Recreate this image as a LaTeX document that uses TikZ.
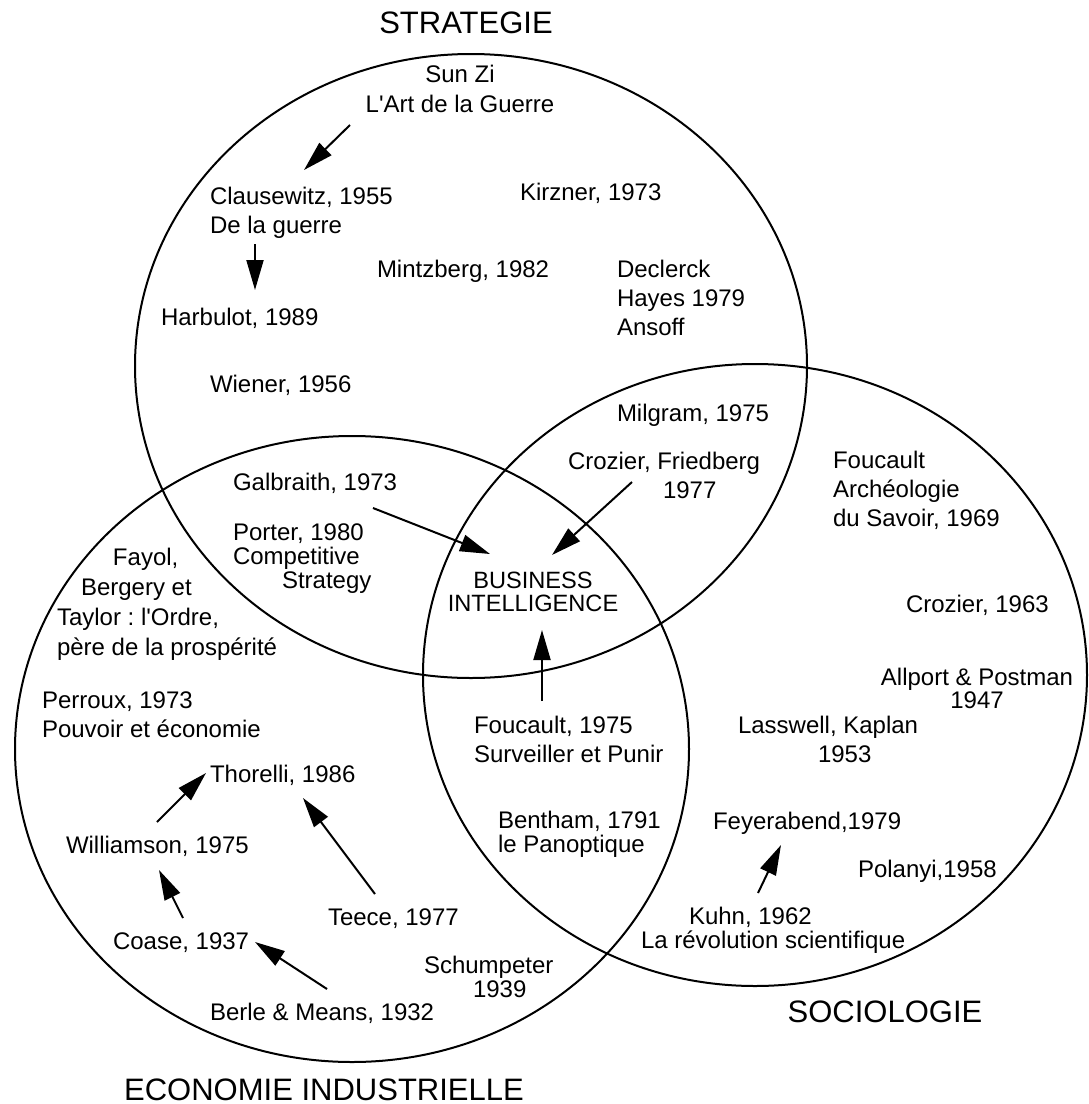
\documentclass[tikz,border=0pt]{standalone}
\usepackage{fontspec}
\setmainfont{Liberation Sans}
\usetikzlibrary{arrows.meta}
% multi-line text block whose baseline is the first line
\newcommand\txtblock[2]{\begin{tabular}[t]{@{}#1@{}}#2\end{tabular}}
\frenchspacing
\begin{document}
\begin{tikzpicture}[x=0.5pt,y=-0.5pt,
  field/.style={line width=1pt},
  link/.style={line width=1pt,-{Triangle[length=15pt,width=8.5pt]}},
  lbl/.style={inner sep=0pt,outer sep=0pt,anchor=base west,font=\fontsize{12}{14.5}\selectfont},
  lblwide/.style={lbl,font=\fontsize{12}{15}\selectfont},
  lbltight/.style={lbl,font=\fontsize{12}{12}\selectfont},
  core/.style={inner sep=0pt,outer sep=0pt,anchor=base,font=\fontsize{11.8}{11.5}\selectfont},
  heading/.style={inner sep=0pt,outer sep=0pt,anchor=base,font=\fontsize{15.5}{18}\selectfont}]
\useasboundingbox (0,0) rectangle (1088,1104);

% the three fields
\draw[field] (471,366) ellipse [x radius=336, y radius=312];
\draw[field] (352,749) ellipse [x radius=337, y radius=313];
\draw[field] (755,675) ellipse [x radius=332, y radius=311];

% field titles
\node[heading] (tstrat) at (466,33) {STRATEGIE};
\node[heading] (teco) at (324,1100) {ECONOMIE INDUSTRIELLE};
\node[heading] (tsocio) at (885,1022) {SOCIOLOGIE};

% strategy
\node[lblwide,anchor=base] (sunzi) at (460,82) {\txtblock{c}{Sun Zi\\L\textquotesingle Art de la Guerre}};
\node[lbl] (clause) at (210,204) {\txtblock{l}{Clausewitz, 1955\\De la guerre}};
\node[lbl] (harbulot) at (161,325) {Harbulot, 1989};
\node[lbl] (wiener) at (210,392) {Wiener, 1956};
\node[lbl] (mintz) at (377,277) {Mintzberg, 1982};
\node[lbl] (kirzner) at (520,200) {Kirzner, 1973};
\node[lbl] (declerck) at (617,277) {\txtblock{l}{Declerck\\Hayes 1979\\Ansoff}};
\node[lbl] (milgram) at (617,421) {Milgram, 1975};
\node[lbl] (crozfr) at (568,469) {\txtblock{l}{Crozier, Friedberg\\\hspace*{47.5pt}1977}};
\node[lbl] (galb) at (233,490) {Galbraith, 1973};
\node[lbltight] (porter) at (233,540) {\txtblock{l}{Porter, 1980\\Competitive\\\hspace*{24.5pt}Strategy}};

% centre
\node[core] (bi) at (533,588) {\txtblock{c}{BUSINESS\\INTELLIGENCE}};

% industrial economics
\node[lblwide] (fayol) at (57,565) {\txtblock{l}{\hspace*{28pt}Fayol,\\\hspace*{12pt}Bergery et\\Taylor : l\textquotesingle Ordre,\\p\`ere de la prosp\'erit\'e}};
\node[lbl] (perroux) at (42,708) {\txtblock{l}{Perroux, 1973\\Pouvoir et \'economie}};
\node[lbl] (thorelli) at (210,782) {Thorelli, 1986};
\node[lbl] (william) at (66,853) {Williamson, 1975};
\node[lbl] (coase) at (113,949) {Coase, 1937};
\node[lbl] (teece) at (328,925) {Teece, 1977};
\node[lbl] (berle) at (210,1020) {Berle \& Means, 1932};
\node[lbltight] (schump) at (424,973) {\txtblock{l}{Schumpeter\\\hspace*{24.5pt}1939}};
\node[lbl] (foucault) at (474,733) {\txtblock{l}{Foucault, 1975\\Surveiller et Punir}};
\node[lbltight] (bentham) at (498,828) {\txtblock{l}{Bentham, 1791\\le Panoptique}};

% sociology
\node[lbl] (archeo) at (833,468) {\txtblock{l}{Foucault\\Arch\'eologie\\du Savoir, 1969}};
\node[lbl] (croz63) at (906,612) {Crozier, 1963};
\node[core,font=\fontsize{12}{11.5}\selectfont] (allport) at (977,685) {\txtblock{c}{Allport \& Postman\\1947}};
\node[lbl] (lasswell) at (738,733) {\txtblock{l}{Lasswell, Kaplan\\\hspace*{40pt}1953}};
\node[lbl] (feyer) at (713,829) {Feyerabend,1979};
\node[lbl] (polanyi) at (858,877) {Polanyi,1958};
\node[lbltight] (kuhn) at (641,924) {\txtblock{l}{\hspace*{24pt}Kuhn, 1962\\La r\'evolution scientifique}};

% lines of influence
\draw[link] ([shift={(-110,43)}]sunzi.base) -- ([shift={(94,-34)}]clause.base west);
\draw[link] ([shift={(45,40)}]clause.base west) -- ([shift={(94,-35)}]harbulot.base west);
\draw[link] ([shift={(140,18)}]galb.base west) -- ([shift={(-43,-34)}]bi.base);
\draw[link] ([shift={(64,13)}]crozfr.base west) -- ([shift={(19,-33)}]bi.base);
\draw[link] ([shift={(68,-32)}]foucault.base west) -- ([shift={(9,42)}]bi.base);
\draw[link] ([shift={(91,-31)}]william.base west) -- ([shift={(-4,-9)}]thorelli.base west);
\draw[link] ([shift={(70,-31)}]coase.base west) -- ([shift={(93,17)}]william.base west);
\draw[link] ([shift={(47,-31)}]teece.base west) -- ([shift={(93,16)}]thorelli.base west);
\draw[link] ([shift={(117,-31)}]berle.base west) -- ([shift={(142,-7)}]coase.base west);
\draw[link] ([shift={(117,-31)}]kuhn.base west) -- ([shift={(68,16)}]feyer.base west);
\end{tikzpicture}
\end{document}
